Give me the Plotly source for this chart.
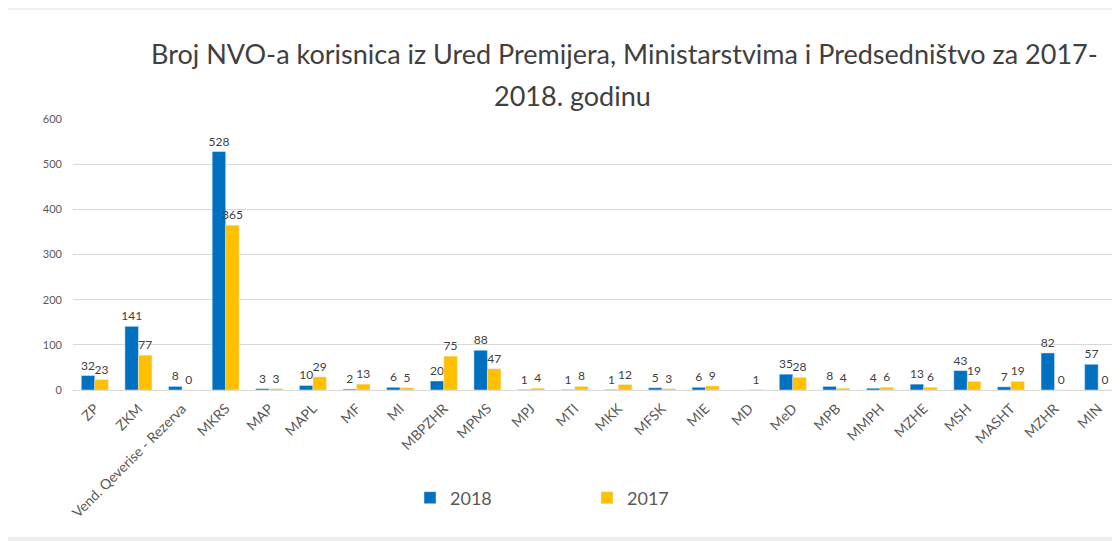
import plotly.graph_objects as go

categories = ["ZP", "ZKM", "Vend. Qeverise - Rezerva", "MKRS", "MAP", "MAPL", "MF", "MI",
              "MBPZHR", "MPMS", "MPJ", "MTI", "MKK", "MFSK", "MIE", "MD", "MeD", "MPB",
              "MMPH", "MZHE", "MSH", "MASHT", "MZHR", "MIN"]
values_2018 = [32, 141, 8, 528, 3, 10, 2, 6, 20, 88, 1, 1, 1, 5, 6, None, 35, 8, 4, 13, 43, 7, 82, 57]
values_2017 = [23, 77, 0, 365, 3, 29, 13, 5, 75, 47, 4, 8, 12, 3, 9, 1, 28, 4, 6, 6, 19, 19, 0, 0]
y_ticks = [0, 100, 200, 300, 400, 500, 600]

FONT = "Lato, Carlito, Calibri, 'Open Sans', sans-serif"
OFF = 8  # page body margin
W, H = 1120 - OFF, 541 - OFF
ML, MR, MT, MB = 73 - OFF, 0, 119 - OFF, 541 - 390
PW, PH = W - ML - MR, H - MT - MB


def px_x(px):
    return (px - OFF - ML) / PW


def px_y(py):
    return (H - MB - (py - OFF)) / PH


fig = go.Figure()
fig.add_trace(go.Bar(
    name="2018", x=categories, y=values_2018, marker_color="#0070C0",
    text=[("" if v is None else str(v)) for v in values_2018],
    textposition="outside", textfont=dict(size=12, color="#404040", family=FONT),
    constraintext="none", cliponaxis=False,
))
fig.add_trace(go.Bar(
    name="2017", x=categories, y=values_2017, marker_color="#FFC000",
    text=[("" if v is None else str(v)) for v in values_2017],
    textposition="outside", textfont=dict(size=12, color="#404040", family=FONT),
    constraintext="none", cliponaxis=False,
))

shapes = [
    dict(type="rect", xref="paper", yref="paper", x0=px_x(OFF), x1=px_x(1120), y0=px_y(541), y1=px_y(537),
         fillcolor="#eeeeee", line_width=0, layer="below"),
    dict(type="rect", xref="paper", yref="paper", x0=px_x(OFF), x1=px_x(1120), y0=px_y(10), y1=px_y(OFF),
         fillcolor="#eeeeee", line_width=0, layer="below"),
]

annotations = [
    dict(text="Broj NVO-a korisnica iz Ured Premijera, Ministarstvima i Predsedništvo za 2017-",
         xref="paper", yref="paper", x=px_x(624), y=px_y(54), xanchor="center", yanchor="middle",
         showarrow=False, font=dict(size=27, color="#404040", family=FONT)),
    dict(text="2018. godinu",
         xref="paper", yref="paper", x=px_x(572), y=px_y(95), xanchor="center", yanchor="middle",
         showarrow=False, font=dict(size=27, color="#404040", family=FONT)),
]

fig.update_layout(
    width=W, height=H,
    margin=dict(l=ML, r=MR, t=MT, b=MB, autoexpand=False),
    paper_bgcolor="white", plot_bgcolor="white",
    barmode="group", bargap=0.38, bargroupgap=0,
    shapes=shapes, annotations=annotations,
    font=dict(family=FONT, color="#595959"),
    legend=dict(orientation="h", x=px_x(410), y=px_y(498), xanchor="left", yanchor="middle",
                font=dict(size=18, color="#595959", family=FONT), entrywidth=132,
                bgcolor="rgba(0,0,0,0)"),
    xaxis=dict(range=[-0.5, 23.5], tickangle=-45, tickfont=dict(size=14, color="#595959", family=FONT),
               showgrid=False, showline=True, linecolor="#d9d9d9", ticks="", ticklabelstandoff=4),
    yaxis=dict(range=[0, 600], tickvals=y_ticks, tickfont=dict(size=11, color="#595959", family=FONT),
               showgrid=True, gridcolor="#d9d9d9", zeroline=False, showline=False, ticks="",
               ticklabelstandoff=10),
)

fig.write_html("out.html")
